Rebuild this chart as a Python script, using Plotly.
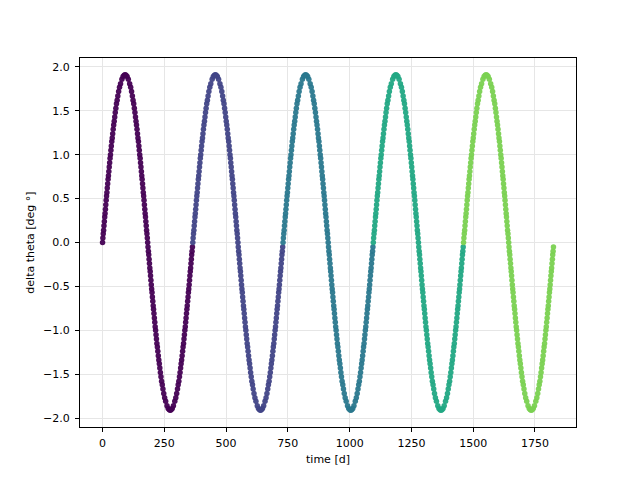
import plotly.graph_objects as go

# one annual cycle: day within the year and delta theta [deg]
cycle_day = [
    0, 1.4, 2.9, 4.4, 5.8, 7.3, 8.8, 10.2, 11.7, 13.2, 14.7, 16.2, 17.7, 19.2, 20.8, 22.4, 23.9, 25.5,
    27.1, 28.8, 30.4, 32.1, 33.9, 35.6, 37.4, 39.3, 41.1, 43.1, 45.1, 47.2, 49.3, 51.5, 53.9, 56.4,
    59.1, 61.9, 65.1, 68.7, 72.9, 78.3, 83.1, 87.6, 91.3,
    95.0, 99.5, 104.3, 109.7, 113.9, 117.5, 120.7, 123.5, 126.2, 128.7, 131.1, 133.3, 135.4, 137.5,
    139.5, 141.5, 143.3, 145.2, 147.0, 148.7, 150.5, 152.2, 153.8, 155.5, 157.1, 158.7, 160.2, 161.8,
    163.4, 164.9, 166.4, 167.9, 169.4, 170.9, 172.4, 173.8, 175.3, 176.8, 178.2, 179.7, 181.2, 182.6,
    184.0, 185.5, 187.0, 188.4, 189.9, 191.4, 192.8, 194.3, 195.8, 197.3, 198.8, 200.3, 201.8, 203.4,
    205.0, 206.5, 208.1, 209.7, 211.4, 213.0, 214.7, 216.5, 218.2, 220.0, 221.9, 223.7, 225.7, 227.7,
    229.8, 231.9, 234.1, 236.5, 239.0, 241.7, 244.5, 247.7, 251.3, 255.5, 260.9, 265.7, 270.2, 273.9,
    277.6, 282.1, 286.9, 292.3, 296.5, 300.1, 303.3, 306.1, 308.8, 311.3, 313.7, 315.9, 318.0, 320.1,
    322.1, 324.1, 325.9, 327.8, 329.6, 331.3, 333.1, 334.8, 336.4, 338.1, 339.7, 341.3, 342.8, 344.4,
    346.0, 347.5, 349.0, 350.5, 352.0, 353.5, 355.0, 356.4, 357.9, 359.4, 360.8, 362.3, 363.8,
]
cycle_delta = [
    0.00, 0.05, 0.10, 0.14, 0.19, 0.24, 0.29, 0.33, 0.38, 0.43, 0.48, 0.53, 0.57, 0.62, 0.67, 0.72, 0.76, 0.81,
    0.86, 0.91, 0.96, 1.00, 1.05, 1.10, 1.15, 1.19, 1.24, 1.29, 1.34, 1.38, 1.43, 1.48, 1.53, 1.58,
    1.62, 1.67, 1.72, 1.77, 1.81, 1.86, 1.89, 1.906, 1.91,
    1.906, 1.89, 1.86, 1.81, 1.77, 1.72, 1.67, 1.62, 1.58, 1.53, 1.48, 1.43, 1.38, 1.34,
    1.29, 1.24, 1.19, 1.15, 1.10, 1.05, 1.00, 0.96, 0.91, 0.86, 0.81, 0.76, 0.72, 0.67,
    0.62, 0.57, 0.53, 0.48, 0.43, 0.38, 0.33, 0.29, 0.24, 0.19, 0.14, 0.10, 0.05, 0.00,
    -0.05, -0.10, -0.14, -0.19, -0.24, -0.29, -0.33, -0.38, -0.43, -0.48, -0.53, -0.57, -0.62, -0.67,
    -0.72, -0.76, -0.81, -0.86, -0.91, -0.96, -1.00, -1.05, -1.10, -1.15, -1.19, -1.24, -1.29, -1.34,
    -1.38, -1.43, -1.48, -1.53, -1.58, -1.62, -1.67, -1.72, -1.77, -1.81, -1.86, -1.89, -1.906, -1.91,
    -1.906, -1.89, -1.86, -1.81, -1.77, -1.72, -1.67, -1.62, -1.58, -1.53, -1.48, -1.43, -1.38, -1.34,
    -1.29, -1.24, -1.19, -1.15, -1.10, -1.05, -1.00, -0.96, -0.91, -0.86, -0.81, -0.76, -0.72, -0.67,
    -0.62, -0.57, -0.53, -0.48, -0.43, -0.38, -0.33, -0.29, -0.24, -0.19, -0.14, -0.10, -0.05,
]

year_start = [0, 365.25, 730.5, 1095.75, 1461.0]
year_colors = ["#440154", "#414487", "#2a788e", "#22a884", "#7ad151"]

x_ticks = [0, 250, 500, 750, 1000, 1250, 1500, 1750]
y_ticks = [-2.0, -1.5, -1.0, -0.5, 0.0, 0.5, 1.0, 1.5, 2.0]
y_tick_text = ["\u22122.0", "\u22121.5", "\u22121.0", "\u22120.5", "0.0", "0.5", "1.0", "1.5", "2.0"]

fig = go.Figure()
for start, color in zip(year_start, year_colors):
    fig.add_trace(go.Scatter(
        x=[start + d for d in cycle_day],
        y=cycle_delta,
        mode="markers",
        marker=dict(color=color, size=5.5, opacity=0.95, line=dict(width=0)),
        showlegend=False,
        hoverinfo="x+y",
    ))

axis_common = dict(
    showline=True, linecolor="black", linewidth=1, mirror=True,
    ticks="outside", ticklen=4, tickwidth=1, tickcolor="black",
    showgrid=True, gridcolor="#e6e6e6", gridwidth=1,
    zeroline=False,
    tickfont=dict(family="DejaVu Sans", size=11, color="black"),
    title_font=dict(family="DejaVu Sans", size=11, color="black"),
)

fig.update_layout(
    width=640, height=480,
    margin=dict(l=80, r=64, t=58, b=53),
    paper_bgcolor="white", plot_bgcolor="white",
    font=dict(family="DejaVu Sans", size=11, color="black"),
    xaxis=dict(range=[-91.2, 1916], tickvals=x_ticks, ticktext=[str(v) for v in x_ticks],
               ticklabelstandoff=2,
               title=dict(text="time [d]", standoff=6), **axis_common),
    yaxis=dict(range=[-2.102, 2.102], tickvals=y_ticks, ticktext=y_tick_text,
               ticklabelstandoff=3,
               title=dict(text="delta theta [deg \u00b0]", standoff=6), **axis_common),
)

fig.write_html("out.html")
